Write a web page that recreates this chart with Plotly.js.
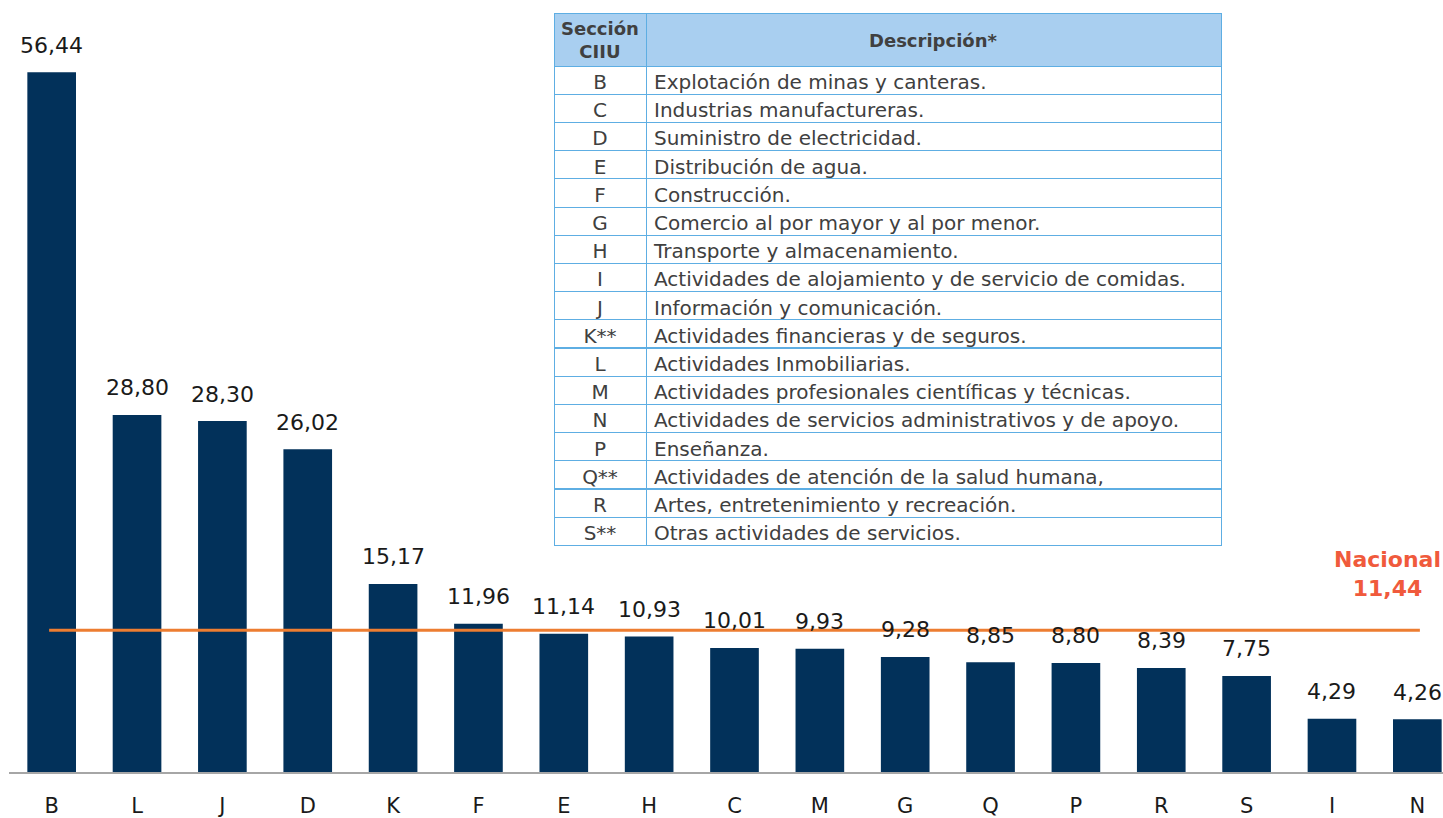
<!DOCTYPE html>
<html>
<head>
<meta charset="utf-8">
<script src="https://cdn.plot.ly/plotly-3.0.1.min.js"></script>
<style>
html,body{margin:0;padding:0;overflow:hidden;background:#fff;}
#chart{width:1460px;height:818px;}
</style>
</head>
<body>
<div id="chart"></div>
<script>
const categories = ['B','L','J','D','K','F','E','H','C','M','G','Q','P','R','S','I','N'];
const values = [56.44,28.80,28.30,26.02,15.17,11.96,11.14,10.93,10.01,9.93,9.28,8.85,8.80,8.39,7.75,4.29,4.26];
const nacional = 11.44;
const nacionalLabel = 'Nacional';

const tableHeader = ['<b>Sección<br>CIIU</b>', '<b>Descripción*</b>'];
const tableCodes = ['B','C','D','E','F','G','H','I','J','K**','L','M','N','P','Q**','R','S**'];
const tableDescriptions = [
  'Explotación de minas y canteras.',
  'Industrias manufactureras.',
  'Suministro de electricidad.',
  'Distribución de agua.',
  'Construcción.',
  'Comercio al por mayor y al por menor.',
  'Transporte y almacenamiento.',
  'Actividades de alojamiento y de servicio de comidas.',
  'Información y comunicación.',
  'Actividades financieras y de seguros.',
  'Actividades Inmobiliarias.',
  'Actividades profesionales científicas y técnicas.',
  'Actividades de servicios administrativos y de apoyo.',
  'Enseñanza.',
  'Actividades de atención de la salud humana,',
  'Artes, entretenimiento y recreación.',
  'Otras actividades de servicios.'
];

const FONT = 'DejaVu Sans, sans-serif';
const fmt = v => v.toFixed(2).replace('.', ',');

const W = 1460, H = 818, ML = 9, MR = 0, MT = 10, MB = 46;
const plotW = W - ML - MR, plotH = H - MT - MB;
const px2fx = px => (px - ML) / plotW;
const px2fy = py => (H - MB - py) / plotH;

const bars = {
  type: 'bar',
  x: categories,
  y: values,
  marker: {color: '#02315a'},
  hoverinfo: 'skip',
  showlegend: false
};

const table = {
  type: 'table',
  domain: {x: [px2fx(554), px2fx(1221)], y: [px2fy(548), px2fy(13)]},
  columnwidth: [92, 575],
  header: {
    values: ['', ''],
    align: ['center', 'center'],
    fill: {color: '#a9cff0'},
    line: {color: '#5eaee3', width: 1},
    font: {family: FONT, size: 10, color: '#404040'},
    height: 53
  },
  cells: {
    values: [tableCodes, tableDescriptions],
    align: ['center', 'left'],
    fill: {color: '#ffffff'},
    line: {color: '#5eaee3', width: 1},
    font: {family: FONT, size: 20, color: '#404040'},
    height: 28.2
  }
};

const annotations = categories.map((c, i) => ({
  x: c, y: values[i], xref: 'x', yref: 'y',
  text: fmt(values[i]), showarrow: false,
  yanchor: 'middle', yshift: 27,
  font: {family: FONT, size: 22, color: '#1a1a1a'}
}));
annotations.push({
  x: 15.65, y: nacional, xref: 'x', yref: 'y',
  text: '<b>' + nacionalLabel + '<br>' + fmt(nacional) + '</b>',
  showarrow: false, yanchor: 'middle', yshift: 56, align: 'center',
  font: {family: FONT, size: 22, color: '#f05a3c'}
});
annotations.push({
  x: px2fx(600), y: px2fy(40), xref: 'paper', yref: 'paper',
  text: tableHeader[0], showarrow: false,
  xanchor: 'center', yanchor: 'middle', align: 'center',
  font: {family: FONT, size: 18, color: '#404040'}
});
annotations.push({
  x: px2fx(933), y: px2fy(41), xref: 'paper', yref: 'paper',
  text: tableHeader[1], showarrow: false,
  xanchor: 'center', yanchor: 'middle',
  font: {family: FONT, size: 18, color: '#404040'}
});

const layout = {
  width: W, height: H,
  margin: {l: ML, r: MR, t: MT, b: MB, pad: 0},
  paper_bgcolor: '#ffffff', plot_bgcolor: '#ffffff',
  separators: ',.',
  bargap: 0.43,
  font: {family: FONT, color: '#1a1a1a'},
  xaxis: {
    type: 'category',
    categoryorder: 'array', categoryarray: categories,
    showline: true, linecolor: '#a6a6a6', linewidth: 1.5,
    showgrid: false, zeroline: false, ticks: '',
    tickfont: {family: FONT, size: 21, color: '#1a1a1a'},
    ticklabelstandoff: 14,
    fixedrange: true
  },
  yaxis: {
    range: [0, plotH / 12.4],
    visible: false, showgrid: false, zeroline: false, fixedrange: true
  },
  shapes: [{
    type: 'line', xref: 'x', yref: 'y',
    x0: -0.03, x1: 16.03, y0: nacional, y1: nacional,
    line: {color: '#ed7d31', width: 3}
  }],
  annotations: annotations,
  showlegend: false
};

Plotly.newPlot('chart', [bars, table], layout, {displayModeBar: false, staticPlot: true});
</script>
</body>
</html>
